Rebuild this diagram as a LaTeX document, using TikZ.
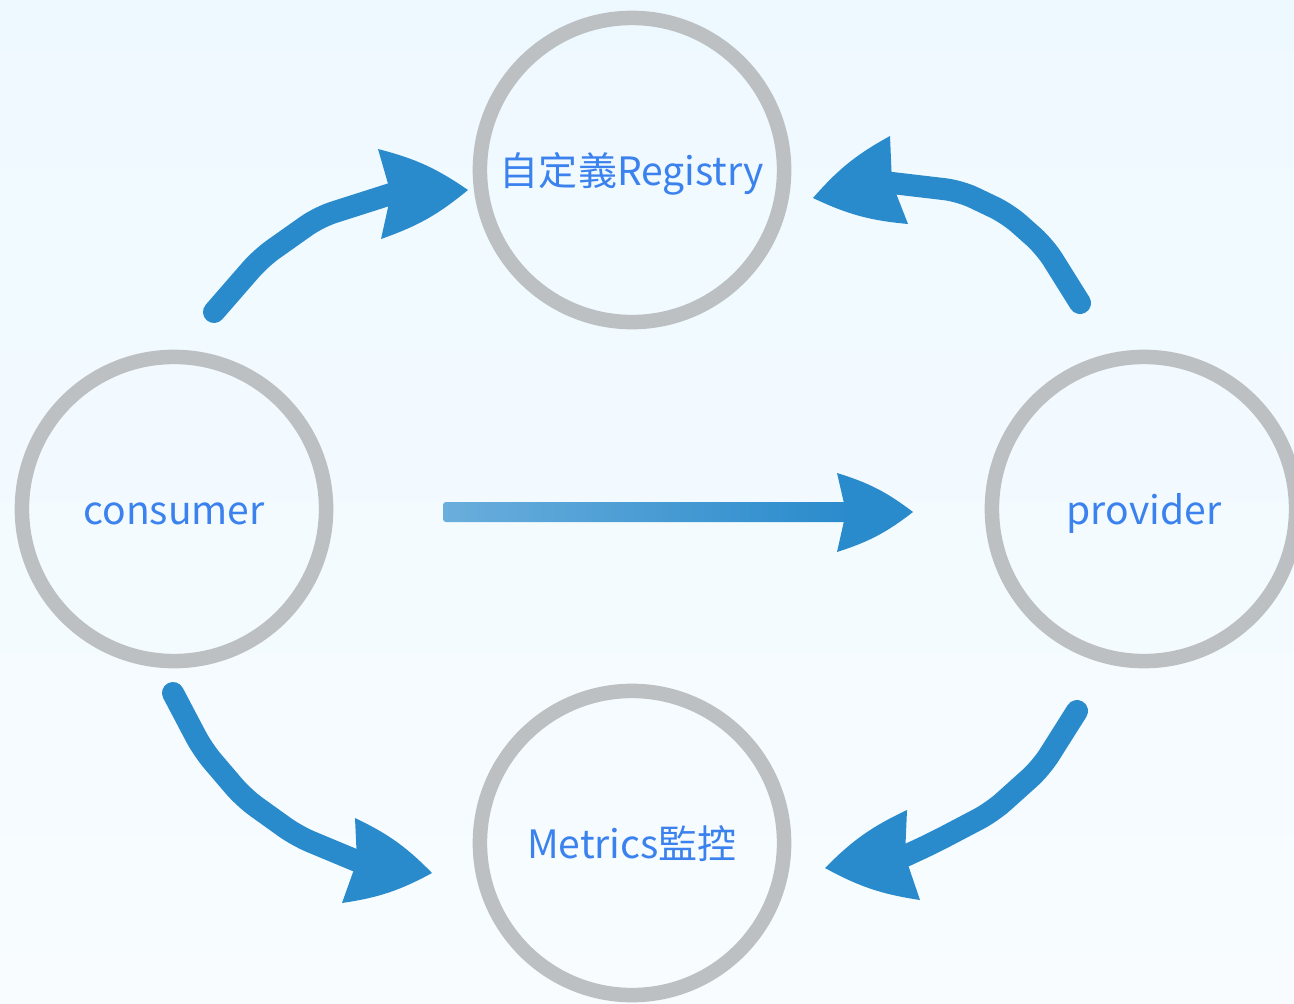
\documentclass[tikz,border=0pt]{standalone}
\usepackage{fontspec}
\setmainfont{Noto Sans CJK TC}
\usepackage{tikz}
\usetikzlibrary{positioning}

\definecolor{bgtop}{HTML}{EEF9FF}
\definecolor{bgbottom}{HTML}{F8FCFF}
\definecolor{ringgray}{HTML}{BCC0C3}
\definecolor{labelblue}{HTML}{3B82EE}
\definecolor{flowblue}{HTML}{2A8BCC}
\definecolor{flowlight}{HTML}{6AAEDC}

\tikzset{
  hub/.style={circle, draw=ringgray, line width=0.145cm, minimum size=3.04cm,
    inner sep=0pt, text height=0.3cm, text depth=0cm, text=labelblue,
    font=\fontsize{11.1}{14}\selectfont},
  flow/.style={draw=flowblue, line width=0.22cm, line cap=round, line join=round,
    rounded corners=0.15cm},
  flowhead/.style={fill=flowblue}
}

\begin{document}
\begin{tikzpicture}[x=0.01cm, y=-0.01cm]
        \useasboundingbox (0,0) rectangle (1294,1003);
        \shade [top color=bgtop, bottom color=bgbottom] (0,0) rectangle (1294,1003);
        % the four services
        \node [hub] (registry) at (632,170) {自定義Registry};
        \node [hub] (consumer) at (174,509) {consumer};
        \node [hub] (provider) at (1144,509) {provider};
        \node [hub] (metrics) at (632,843) {Metrics監控};
        % consumer -> registry
        \coordinate (cr-start) at (214,312);
        \coordinate (cr-inset) at (391,194);
        \coordinate (cr-tip) at (468,190);
        \draw [flow] (cr-start) -- (261,258) -- (319,217) -- (cr-inset);
        \fill [flowhead] (cr-tip) to[bend right=10] (378,149) -- (cr-inset) -- (381,239) to[bend right=10] (cr-tip);
        % provider -> registry
        \coordinate (pr-start) at (1080,303);
        \coordinate (pr-inset) at (892,183);
        \coordinate (pr-tip) at (813,198);
        \draw [flow] (pr-start) -- (1045,247) -- (1008,214) -- (960,191) -- (pr-inset);
        \fill [flowhead] (pr-tip) to[bend left=10] (890,136) -- (pr-inset) -- (908,224) to[bend left=10] (pr-tip);
        % consumer -> metrics
        \coordinate (cm-start) at (173,693);
        \coordinate (cm-inset) at (357,861);
        \coordinate (cm-tip) at (432,873);
        \draw [flow] (cm-start) -- (203,750) -- (244,798) -- (297,836) -- (cm-inset);
        \fill [flowhead] (cm-tip) to[bend right=10] (355,818) -- (cm-inset) -- (342,903) to[bend right=10] (cm-tip);
        % provider -> metrics
        \coordinate (pm-start) at (1077,711);
        \coordinate (pm-inset) at (905,856);
        \coordinate (pm-tip) at (825,868);
        \draw [flow] (pm-start) -- (1041,768) -- (992,812) -- (933,843) -- (pm-inset);
        \fill [flowhead] (pm-tip) to[bend left=10] (907,810) -- (pm-inset) -- (920,900) to[bend left=10] (pm-tip);
        % consumer -> provider
        \coordinate (cp-start) at (443,512);
        \coordinate (cp-inset) at (846,512);
        \coordinate (cp-tip) at (913,512);
        \shade [left color=flowlight, right color=flowblue, rounded corners=0.03cm]
            (443,502) rectangle (848,522);
        \fill [flowhead] (cp-tip) to[bend right=10] (837,473) -- (cp-inset) -- (837,552) to[bend right=10] (cp-tip);
\end{tikzpicture}
\end{document}
